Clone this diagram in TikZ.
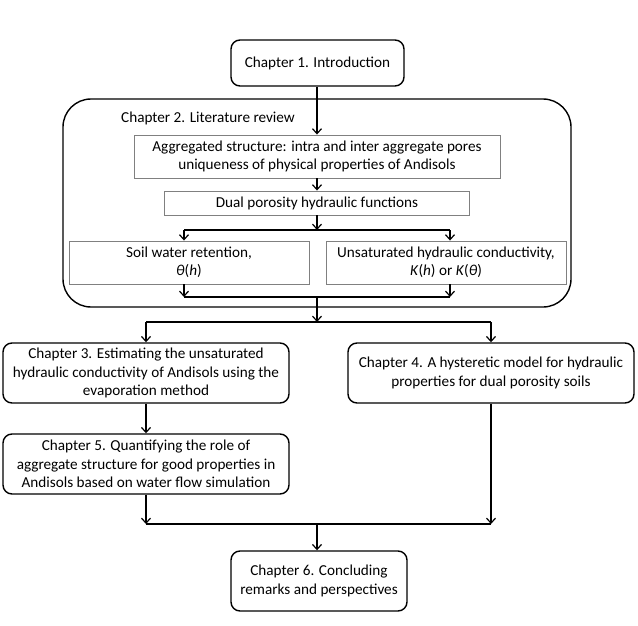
\documentclass[tikz,border=0pt]{standalone}
\usepackage{fontspec}
\setmainfont{Carlito}
\usetikzlibrary{arrows.meta}
\begin{document}
\begin{tikzpicture}[x=1pt,y=-1pt,
  txt/.style={font=\fontsize{15.2}{18.3}\selectfont},
  chap/.style={txt, draw, line width=1.4pt, rounded corners=9pt, align=center, inner sep=0pt},
  gbox/.style={txt, draw=gray, line width=0.9pt, align=center, inner sep=0pt},
  conn/.style={line width=1.4pt},
  arr/.style={conn, -{Straight Barb[length=5pt,width=9pt,line width=1.2pt]}}]
\useasboundingbox (0,0) rectangle (638,626);
% big literature review box
\node[draw, line width=1.4pt, rounded corners=28pt, minimum width=508pt, minimum height=208pt] (c2) at (317,203) {};
\node[txt, anchor=base west, inner sep=0pt] (c2lab) at (121,122) {Chapter 2. Literature review};
% chapter boxes
\node[chap, minimum width=173pt, minimum height=46pt] (c1) at (317.5,63) {Chapter 1. Introduction};
\node[gbox, minimum width=366pt, minimum height=43pt] (agg) at (317,156.5) {Aggregated structure: intra and inter aggregate pores\\uniqueness of physical properties of Andisols};
\node[gbox, minimum width=305pt, minimum height=24pt] (dual) at (317,203) {Dual porosity hydraulic functions};
\node[gbox, minimum width=240pt, minimum height=43pt] (soil) at (189,262.5) {Soil water retention,\\\textit{θ}(\textit{h})};
\node[gbox, minimum width=240pt, minimum height=43pt] (unsat) at (446,262.5) {Unsaturated hydraulic conductivity,\\\textit{K}(\textit{h}) or \textit{K}(\textit{θ})};
\node[chap, minimum width=286pt, minimum height=60pt] (c3) at (146,373) {Chapter 3. Estimating the unsaturated\\hydraulic conductivity of Andisols using the\\evaporation method};
\node[chap, minimum width=286pt, minimum height=60pt] (c4) at (491,373) {Chapter 4. A hysteretic model for hydraulic\\properties for dual porosity soils};
\node[chap, minimum width=286pt, minimum height=60pt] (c5) at (146,464) {Chapter 5. Quantifying the role of\\aggregate structure for good properties in\\Andisols based on water flow simulation};
\node[chap, minimum width=176pt, minimum height=60pt] (c6) at (319,581) {Chapter 6. Concluding\\remarks and perspectives};
% junction coordinates
\coordinate (j1) at (317,230);
\coordinate (j1l) at (184,230);
\coordinate (j1r) at (450,230);
\coordinate (j2) at (317,297);
\coordinate (j2l) at (184,297);
\coordinate (j2r) at (450,297);
\coordinate (j3) at (317,322);
\coordinate (j3l) at (146,322);
\coordinate (j3r) at (491,322);
\coordinate (j4) at (317,524);
\coordinate (j4l) at (146,524);
\coordinate (j4r) at (491,524);
% connectors
\draw[arr] (c1.south -| j1) -- (agg.north -| j1);
\draw[arr] (agg.south -| j1) -- (dual.north -| j1);
\draw[arr] (dual.south -| j1) -- (j1);
\draw[conn] (j1l) -- (j1r);
\draw[arr] (j1l) -- (soil.north -| j1l);
\draw[arr] (j1r) -- (unsat.north -| j1r);
\draw[arr] (soil.south -| j2l) -- (j2l);
\draw[arr] (unsat.south -| j2r) -- (j2r);
\draw[conn] (j2l) -- (j2r);
\draw[arr] (j2) -- (j3);
\draw[conn] (j3l) -- (j3r);
\draw[arr] (j3l) -- (c3.north);
\draw[arr] (j3r) -- (c4.north);
\draw[arr] (c3.south) -- (c5.north);
\draw[arr] (c5.south) -- (j4l);
\draw[arr] (c4.south) -- (j4r);
\draw[conn] (j4l) -- (j4r);
\draw[arr] (j4) -- (c6.north -| j4);
\end{tikzpicture}
\end{document}
